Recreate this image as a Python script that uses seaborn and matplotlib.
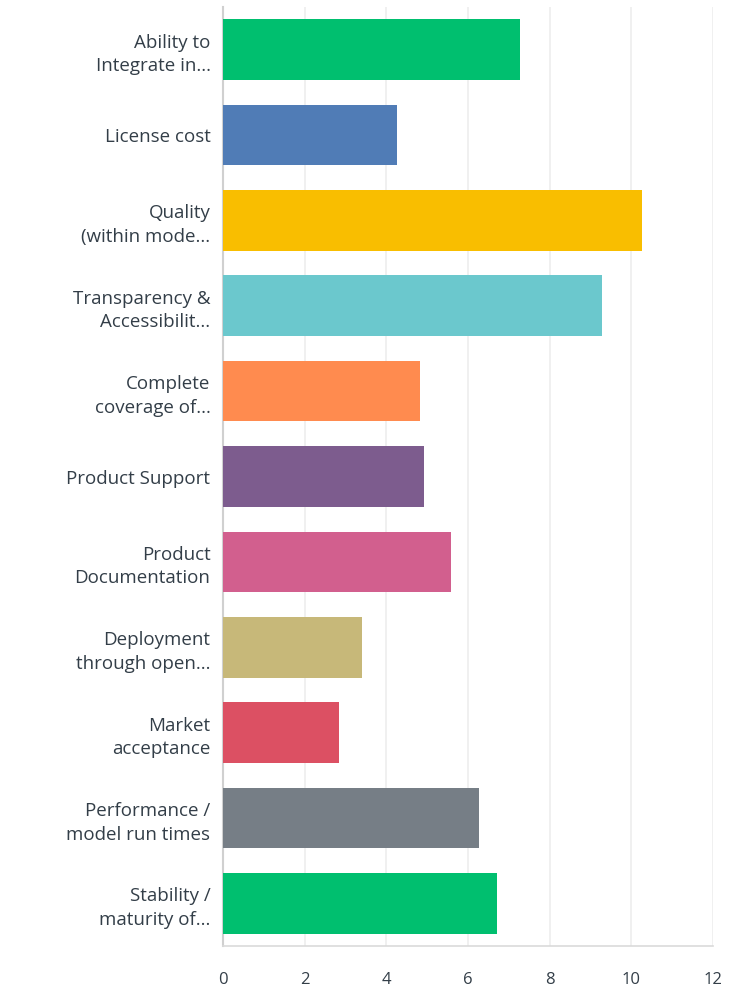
import matplotlib
matplotlib.use("Agg")
import matplotlib.pyplot as plt
import seaborn as sns
import pandas as pd

categories = [
    "Ability to\nIntegrate in...",
    "License cost",
    "Quality\n(within mode...",
    "Transparency &\nAccessibilit...",
    "Complete\ncoverage of...",
    "Product Support",
    "Product\nDocumentation",
    "Deployment\nthrough open...",
    "Market\nacceptance",
    "Performance /\nmodel run times",
    "Stability /\nmaturity of...",
]
values = [7.27, 4.26, 10.25, 9.28, 4.82, 4.93, 5.58, 3.40, 2.84, 6.27, 6.71]
colors = ["#00BF6F", "#507CB6", "#F9BE00", "#6BC8CD", "#FF8B4F", "#7D5C8E",
          "#D25F8E", "#C7B879", "#DC5063", "#767E86", "#00BF6F"]
xticks = [0, 2, 4, 6, 8, 10, 12]

df = pd.DataFrame({"category": categories, "value": values})

sns.set_theme(style="white")
plt.rcParams["font.family"] = ["Open Sans", "DejaVu Sans"]

fig = plt.figure(figsize=(7.44, 9.88), dpi=100)
ax = fig.add_axes([223 / 744, 1 - 946 / 988, (713 - 223) / 744, (946 - 7) / 988])

sns.barplot(data=df, x="value", y="category", hue="category", palette=colors,
            legend=False, orient="h", width=0.71, ax=ax, saturation=1,
            edgecolor="none", zorder=3)

ax.set_xlim(0, 12)
ax.set_ylim(10.5, -0.5)
ax.set_xticks(xticks)
ax.set_xticklabels([str(t) for t in xticks])
ax.set_xlabel("")
ax.set_ylabel("")
ax.grid(axis="x", color="#EDEDED", linewidth=1.2, zorder=0)
ax.grid(axis="y", visible=False)
for s in ["top", "right"]:
    ax.spines[s].set_visible(False)
ax.spines["left"].set_color("#D0D0D0")
ax.spines["bottom"].set_color("#DADADA")
ax.spines["left"].set_linewidth(1.5)
ax.spines["bottom"].set_linewidth(1.2)
ax.tick_params(axis="x", length=0, pad=19, labelsize=12, labelcolor="#333E48")
ax.tick_params(axis="y", length=0, pad=9, labelsize=13.5, labelcolor="#333E48")
for lab in ax.get_yticklabels():
    lab.set_linespacing(1.4)

fig.savefig("out.png", dpi=100)
